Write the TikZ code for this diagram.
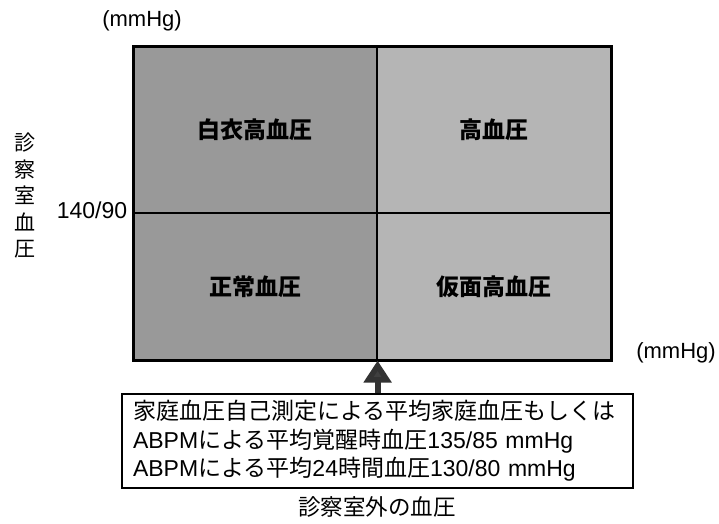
\documentclass[tikz,border=0pt]{standalone}
\usepackage{fontspec}
\setmainfont{Noto Sans CJK JP}
\newfontfamily\lat{Liberation Sans}
\usetikzlibrary{arrows.meta}
\begin{document}
\begin{tikzpicture}[x=1pt,y=-1pt,
  quad/.style={draw=black, line width=1.6pt, inner sep=0pt, anchor=north west,
    font=\fontsize{23}{23}\selectfont\bfseries},
  darkq/.style={quad, fill=black!40},
  lightq/.style={quad, fill=black!29},
  lab/.style={inner sep=0pt, font=\lat\fontsize{22}{22}\selectfont},
  jlab/.style={inner sep=0pt, font=\fontsize{22}{22}\selectfont},
  note/.style={draw=black, line width=1.2pt, inner xsep=11pt, inner ysep=0pt,
    text width=489pt, minimum height=94pt, align=left,
    font=\fontsize{23}{28.5}\selectfont},
  bigarrow/.style={draw=black!80, line width=6pt,
    -{Triangle[width=27pt,length=22pt,fill=black!75]}}
]
\useasboundingbox (0,0) rectangle (719,523);
\node[darkq, minimum width=243pt, minimum height=166pt] (q1) at (133,46) {白衣高血圧};
\node[lightq, minimum width=234pt, minimum height=166pt] (q2) at (376,46) {高血圧};
\node[darkq, minimum width=243pt, minimum height=147pt] (q3) at (133,212) {正常血圧};
\node[lightq, minimum width=234pt, minimum height=147pt] (q4) at (376,212) {仮面高血圧};
\draw[line width=2pt] (q1.north west) rectangle (q4.south east);

\node[lab] (ymm) at (142,21) {(mmHg)};
\node[lab] (xmm) at (676,353) {(mmHg)};
\node[lab, font=\lat\fontsize{23}{23}\selectfont] (thr) at (92,210) {140/90};
\node[jlab, align=center, font=\fontsize{21}{26.5}\selectfont] (ylab) at (25,196) {診\\察\\室\\血\\圧};

\node[note] (box) at (377.5,441) {家庭血圧自己測定による平均家庭血圧もしくは\\
{\lat ABPM}による平均覚醒時血圧{\lat 135/85 mmHg}\\
{\lat ABPM}による平均{\lat 24}時間血圧{\lat 130/80 mmHg}};
\coordinate (tip) at (q3.south east);
\draw[bigarrow] (box.north -| tip) -- (tip);

\node[jlab, font=\fontsize{22.5}{22.5}\selectfont] (xlab) at (377,507) {診察室外の血圧};
\end{tikzpicture}
\end{document}
